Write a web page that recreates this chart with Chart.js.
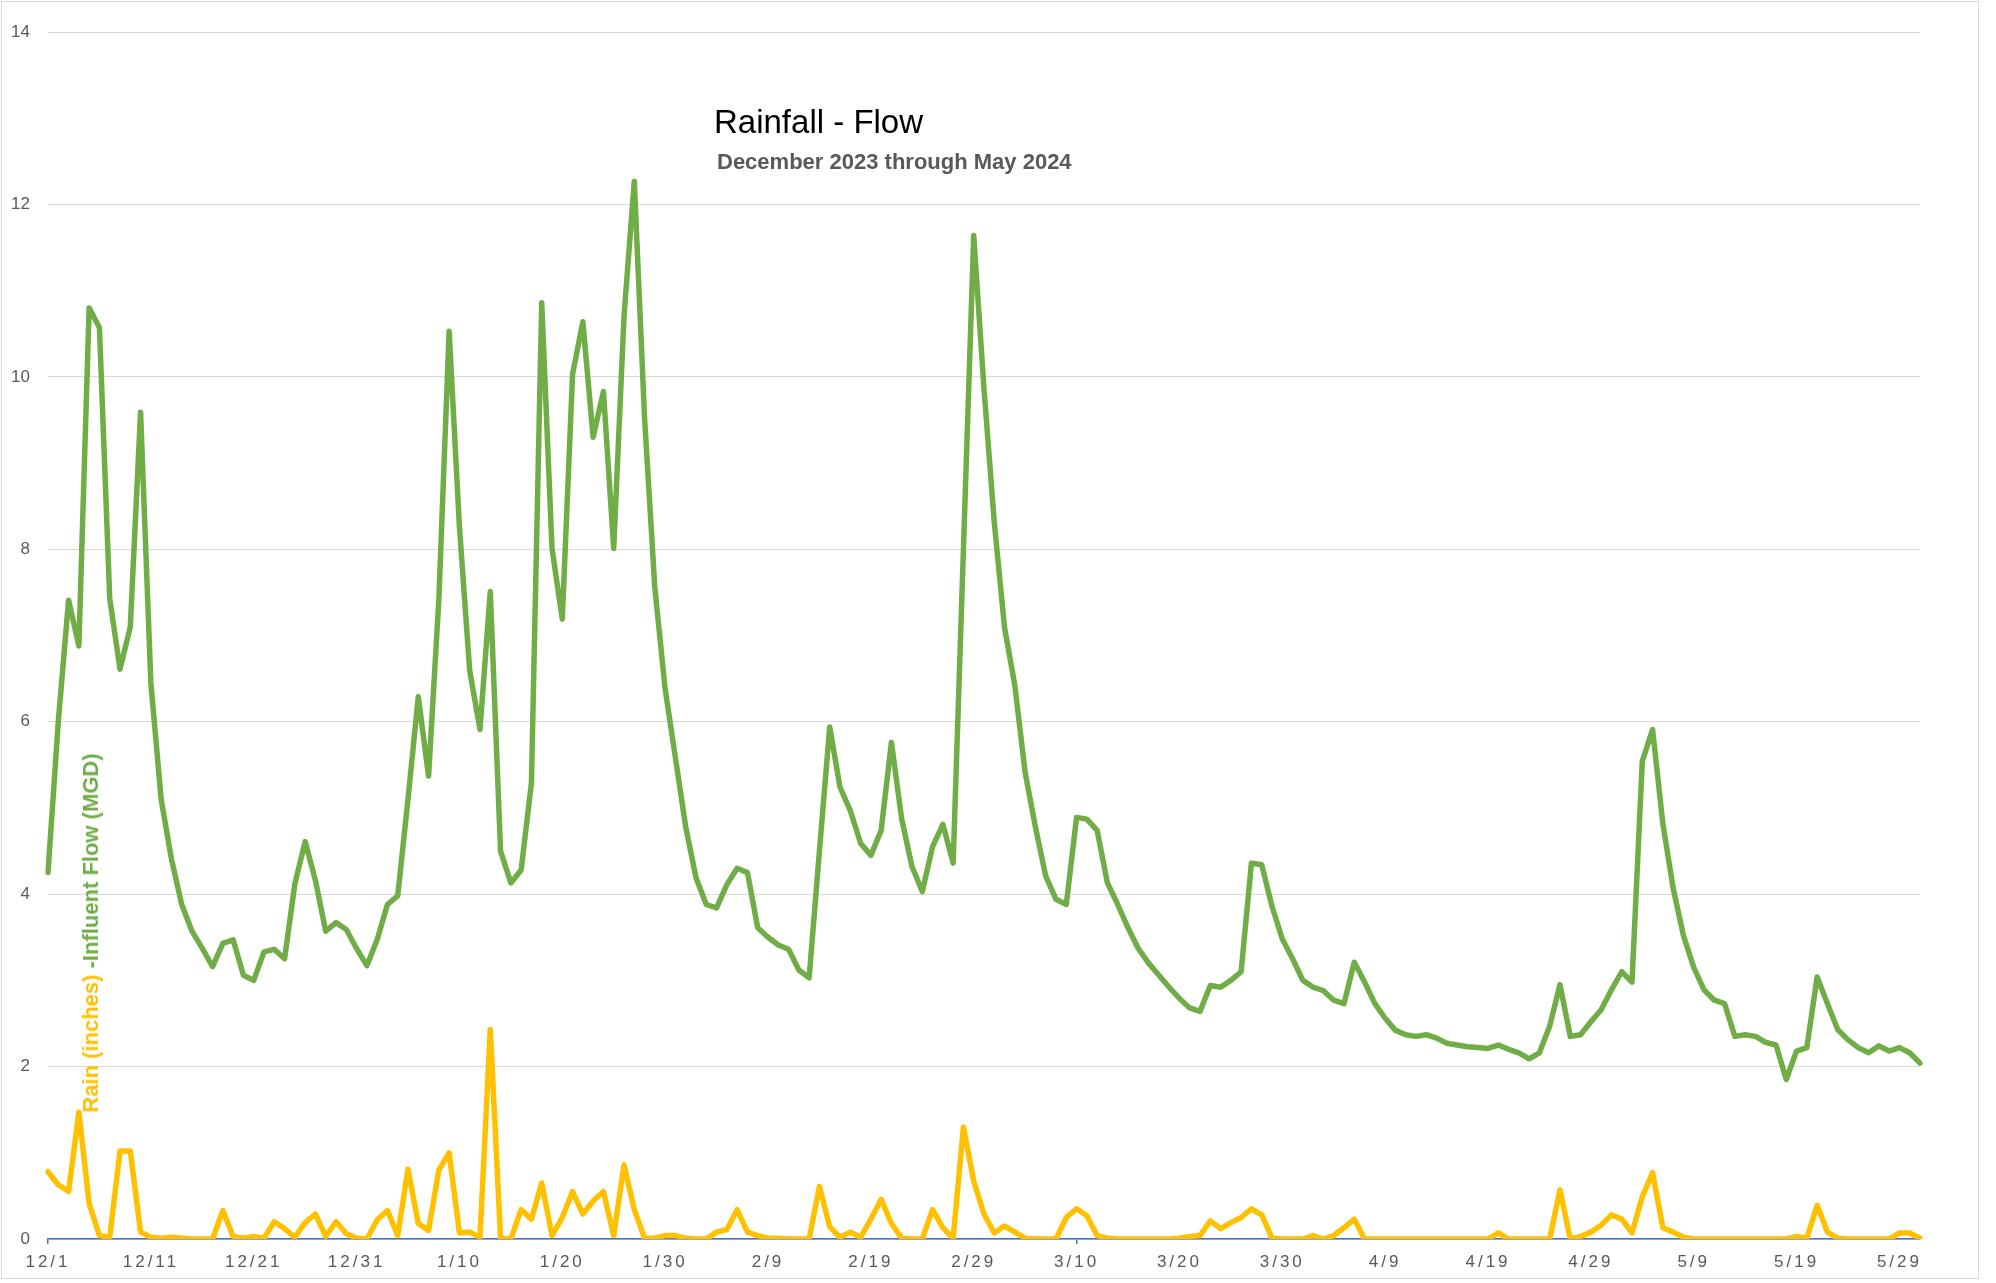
<!DOCTYPE html>
<html lang="en">
<head>
<meta charset="UTF-8">
<title>Rainfall - Flow</title>
<script src="https://cdn.jsdelivr.net/npm/chart.js"></script>
<style>
    body {
        margin: 0;
        background-color: white;
    }
    #wrap {
        position: relative;
        width: 1996px;
        height: 1283px;
    }
    #frame {
        position: absolute;
        left: 1px;
        top: 1px;
        width: 1978px;
        height: 1278px;
        box-sizing: border-box;
        border: 1px solid #d9d9d9;
    }
    #flowChart {
        position: absolute;
        left: 0;
        top: 0;
    }
    .title {
        position: absolute;
        left: 714px;
        top: 105px;
        font: 33px "Liberation Sans", Arial, sans-serif;
        line-height: 1;
        color: #000;
        white-space: nowrap;
    }
    .subtitle {
        position: absolute;
        left: 717px;
        top: 151px;
        font: bold 22px "Liberation Sans", Arial, sans-serif;
        line-height: 1;
        color: #595959;
        white-space: nowrap;
    }
    .ytitle {
        position: absolute;
        left: 91px;
        top: 933px;
        transform: translate(-50%, -50%) rotate(-90deg);
        font: bold 22px "Liberation Sans", Arial, sans-serif;
        line-height: 1;
        white-space: nowrap;
    }
</style>
</head>
<body>

<div id="wrap">
    <div id="frame"></div>
    <canvas id="flowChart" width="1996" height="1283"></canvas>
    <div class="title">Rainfall - Flow</div>
    <div class="subtitle">December 2023 through May 2024</div>
    <div class="ytitle"><span style="color:#FFC000">Rain (inches)</span> <span style="color:#70AD47">-Influent Flow (MGD)</span></div>
</div>

<script>
    // daily readings, 12/1/2023 .. 5/31/2024 (183 days)
    const flow = [
        4.25, 6.0, 7.41, 6.88, 10.8, 10.57, 7.43, 6.61, 7.1, 9.59,
        6.45, 5.1, 4.41, 3.88, 3.57, 3.37, 3.16, 3.43, 3.47, 3.06,
        3.0, 3.33, 3.36, 3.25, 4.12, 4.61, 4.16, 3.57, 3.67, 3.59,
        3.37, 3.17, 3.47, 3.88, 3.98, 5.1, 6.29, 5.37, 7.42, 10.53,
        8.26, 6.59, 5.91, 7.51, 4.5, 4.13, 4.28, 5.29, 10.86, 8.01,
        7.19, 10.03, 10.64, 9.3, 9.83, 8.01, 10.7, 12.27, 9.52, 7.55,
        6.38, 5.58, 4.78, 4.19, 3.88, 3.84, 4.11, 4.3, 4.25, 3.61,
        3.5, 3.41, 3.36, 3.12, 3.03, 4.5, 5.94, 5.24, 4.97, 4.59,
        4.45, 4.74, 5.76, 4.87, 4.32, 4.03, 4.55, 4.81, 4.36, 8.0,
        11.64, 9.86, 8.31, 7.09, 6.42, 5.41, 4.78, 4.21, 3.94, 3.88,
        4.89, 4.87, 4.74, 4.13, 3.88, 3.61, 3.37, 3.2, 3.06, 2.92,
        2.79, 2.68, 2.64, 2.94, 2.92, 3.0, 3.1, 4.36, 4.34, 3.86,
        3.48, 3.25, 3.0, 2.92, 2.88, 2.77, 2.73, 3.21, 2.98, 2.73,
        2.56, 2.42, 2.37, 2.35, 2.37, 2.33, 2.27, 2.25, 2.23, 2.22,
        2.21, 2.25, 2.2, 2.16, 2.09, 2.16, 2.47, 2.95, 2.35, 2.37,
        2.52, 2.66, 2.89, 3.1, 2.98, 5.54, 5.91, 4.82, 4.07, 3.52,
        3.15, 2.89, 2.77, 2.73, 2.35, 2.37, 2.35, 2.28, 2.25, 1.85,
        2.18, 2.22, 3.04, 2.73, 2.43, 2.31, 2.22, 2.16, 2.24, 2.18,
        2.22, 2.16, 2.04
    ];

    const rain = [
        0.78, 0.63, 0.55, 1.47, 0.41, 0.04, 0.02, 1.02, 1.02, 0.08,
        0.02, 0.01, 0.02, 0.01, 0, 0, 0, 0.33, 0.03, 0.01,
        0.03, 0.01, 0.2, 0.12, 0.02, 0.19, 0.29, 0.03, 0.2, 0.06,
        0.01, 0, 0.22, 0.33, 0.04, 0.81, 0.18, 0.1, 0.8, 1.0,
        0.07, 0.08, 0.02, 2.43, 0.01, 0, 0.34, 0.23, 0.65, 0.04,
        0.25, 0.55, 0.29, 0.44, 0.55, 0.04, 0.86, 0.34, 0.01, 0.01,
        0.04, 0.04, 0.01, 0, 0, 0.08, 0.11, 0.34, 0.08, 0.04,
        0.01, 0.01, 0, 0, 0, 0.61, 0.14, 0.02, 0.08, 0.02,
        0.23, 0.46, 0.18, 0.01, 0, 0, 0.34, 0.13, 0.01, 1.3,
        0.67, 0.29, 0.07, 0.15, 0.08, 0.01, 0, 0, 0, 0.25,
        0.35, 0.27, 0.04, 0.01, 0, 0, 0, 0, 0, 0,
        0.01, 0.03, 0.04, 0.21, 0.12, 0.19, 0.25, 0.35, 0.28, 0.01,
        0, 0, 0, 0.04, 0, 0.04, 0.13, 0.23, 0, 0,
        0, 0, 0, 0, 0, 0, 0, 0, 0, 0,
        0, 0.07, 0, 0, 0, 0, 0, 0.57, 0, 0.03,
        0.08, 0.16, 0.28, 0.23, 0.07, 0.49, 0.77, 0.13, 0.08, 0.02,
        0, 0, 0, 0, 0, 0, 0, 0, 0, 0,
        0.03, 0.01, 0.39, 0.08, 0.01, 0, 0, 0, 0, 0,
        0.07, 0.07, 0.01
    ];

    // M/D labels for every day of the period
    const days = [];
    for (let i = 0; i < flow.length; i++) {
        const d = new Date(Date.UTC(2023, 11, 1 + i));
        days.push((d.getUTCMonth() + 1) + '/' + d.getUTCDate());
    }

    const yTicks = { min: 0, max: 14, step: 2 };
    const labelEvery = 10; // only every 10th date gets a label

    // x labels in the original are spaced out a bit
    const spacedLabels = {
        id: 'spacedLabels',
        afterDatasetsDraw(chart) { chart.ctx.letterSpacing = '3px'; },
        afterDraw(chart) { chart.ctx.letterSpacing = '0px'; }
    };

    const tickFont = { family: '"Liberation Sans", Arial, sans-serif', size: 17 };

    new Chart(document.getElementById('flowChart'), {
        type: 'line',
        data: {
            labels: days,
            datasets: [
                {
                    label: 'Influent Flow (MGD)',
                    data: flow,
                    borderColor: '#70AD47',
                    borderWidth: 5.5,
                    pointRadius: 0,
                    borderJoinStyle: 'round',
                    borderCapStyle: 'round',
                    fill: false
                },
                {
                    label: 'Rain (inches)',
                    data: rain,
                    borderColor: '#FFC000',
                    borderWidth: 5.5,
                    pointRadius: 0,
                    borderJoinStyle: 'round',
                    borderCapStyle: 'round',
                    fill: false
                }
            ]
        },
        options: {
            responsive: false,
            animation: false,
            layout: { padding: { left: 0, top: 32, right: 76, bottom: 0 } },
            plugins: {
                legend: { display: false },
                tooltip: { enabled: false }
            },
            scales: {
                x: {
                    afterFit: (s) => { s.height = 44; },
                    border: { display: true, color: '#4472C4', width: 1.5 },
                    grid: {
                        drawOnChartArea: false,
                        drawTicks: true,
                        tickLength: 5,
                        lineWidth: 1.5,
                        color: (ctx) => ctx.index % labelEvery === 0 ? '#4472C4' : 'rgba(0,0,0,0)'
                    },
                    ticks: {
                        autoSkip: false,
                        maxRotation: 0,
                        minRotation: 0,
                        padding: 8,
                        z: 1,
                        color: '#595959',
                        font: tickFont,
                        callback: function (val, i) {
                            return i % labelEvery === 0 ? this.getLabelForValue(val) : null;
                        }
                    }
                },
                y: {
                    min: yTicks.min,
                    max: yTicks.max,
                    afterFit: (s) => { s.width = 48; },
                    border: { display: false },
                    grid: { color: '#d9d9d9', lineWidth: 1, drawTicks: false },
                    ticks: {
                        stepSize: yTicks.step,
                        padding: 18,
                        color: '#595959',
                        font: tickFont
                    }
                }
            }
        },
        plugins: [spacedLabels]
    });
</script>

</body>
</html>
